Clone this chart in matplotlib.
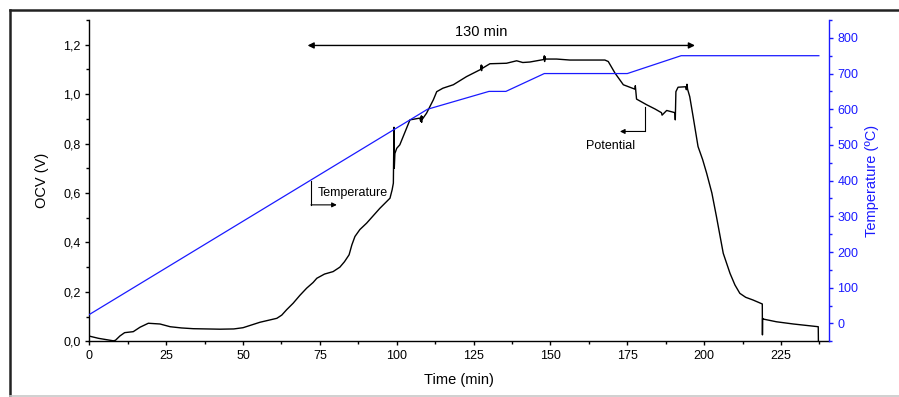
#!/usr/bin/env python3

import matplotlib
matplotlib.use("Agg")
import matplotlib.pyplot as plt
from matplotlib.ticker import MultipleLocator, FuncFormatter
from matplotlib.lines import Line2D

plt.rcParams["font.family"] = ["Liberation Sans", "DejaVu Sans"]

# OCV trace (time in min, voltage in V)
ocv_time = [0, 3, 7.8, 8.5, 10, 11.5, 14.3, 16.5, 19.2, 23, 26.3, 30, 33.8, 42.5, 47, 50, 55.5,
            61, 62.6, 64.2, 66.3, 68.5, 70.7, 72.8, 74, 76.5, 79.3, 81.5, 83, 84.5, 85.4,
            86.4, 88, 90.2, 94.5, 97.8, 98.5, 98.9, 99.1, 99.2, 99.4, 100, 101, 104.3, 107.5,
            107.8, 108.0, 108.1, 108.2, 108.4, 109.7, 111.9, 113, 115, 118.4, 122.7, 127.3,
            127.5, 127.6, 127.7, 127.9, 130.3, 135.7, 139, 141, 143.3, 147.8, 148.0, 148.1,
            148.2, 148.4, 152, 156.3, 167.7, 168.8, 171, 173.7, 177.5, 177.6, 178, 181.3, 184,
            186.1, 186.3, 187.8, 190.5, 190.6, 190.8, 191.5, 194.0, 194.2, 194.4, 194.6,
            195.3, 196.4, 198, 199.5, 200.8, 202.5, 204, 206.2, 208.4, 210, 211.6, 213.5,
            215.9, 218.9, 218.95, 219.0, 219.2, 223.5, 229, 237.1, 237.15]
ocv_volt = [0.021, 0.012, 0.002, 0.004, 0.022, 0.035, 0.039, 0.057, 0.073, 0.070, 0.059, 0.054,
            0.051, 0.049, 0.050, 0.055, 0.077, 0.093, 0.106, 0.128, 0.154, 0.186, 0.215, 0.238,
            0.255, 0.272, 0.282, 0.300, 0.322, 0.350, 0.390, 0.424, 0.452, 0.478, 0.538, 0.579,
            0.613, 0.640, 0.866, 0.700, 0.760, 0.781, 0.795, 0.896, 0.903, 0.890, 0.912, 0.886,
            0.910, 0.900, 0.923, 0.977, 1.010, 1.024, 1.038, 1.071, 1.100, 1.118, 1.095, 1.115,
            1.105, 1.123, 1.125, 1.135, 1.128, 1.130, 1.140, 1.155, 1.132, 1.152, 1.142, 1.142,
            1.138, 1.138, 1.132, 1.085, 1.038, 1.020, 1.034, 0.980, 0.957, 0.940, 0.925, 0.915,
            0.934, 0.925, 0.896, 1.010, 1.028, 1.030, 1.018, 1.040, 1.020, 0.990, 0.909, 0.788,
            0.735, 0.680, 0.600, 0.504, 0.356, 0.275, 0.228, 0.194, 0.178, 0.167, 0.151, 0.026,
            0.093, 0.090, 0.079, 0.070, 0.059, 0.0]

# furnace temperature program (min, degC)
temp_time = [0, 110, 130, 135.5, 148, 175, 192.5, 237.3]
temp_degc = [25, 600, 650, 650, 700, 700, 750, 750]

blue = "#1a1aff"

fig = plt.figure(figsize=(8.99, 3.97), dpi=100)
ax = fig.add_axes([89.3 / 899, 1 - 341.3 / 397, (828.7 - 89.3) / 899, (341.3 - 20) / 397])
ax2 = ax.twinx()

ax.plot(ocv_time, ocv_volt, color="black", lw=1.0, zorder=3)
ax2.plot(temp_time, temp_degc, color=blue, lw=0.9)

ax.set_xlim(0, 240.5)
ax.set_ylim(0, 1.3)
ax2.set_ylim(-50, 850)

comma = FuncFormatter(lambda v, p: ("%.1f" % v).replace(".", ","))
ax.yaxis.set_major_locator(MultipleLocator(0.2))
ax.yaxis.set_minor_locator(MultipleLocator(0.1))
ax.yaxis.set_major_formatter(comma)
ax.xaxis.set_major_locator(MultipleLocator(25))
ax.xaxis.set_minor_locator(MultipleLocator(12.5))
ax2.yaxis.set_minor_locator(MultipleLocator(50))
ax2.set_yticks(list(range(0, 801, 100)))

for a in (ax, ax2):
    a.spines["top"].set_visible(False)
    for s in a.spines.values():
        s.set_linewidth(1.0)
ax.spines["right"].set_visible(False)
ax2.spines["left"].set_visible(False)
ax2.spines["bottom"].set_visible(False)
ax2.spines["right"].set_color(blue)

ax.tick_params(which="major", direction="out", length=3.2, width=1.0, labelsize=9, pad=3)
ax.tick_params(which="minor", direction="out", length=2.2, width=1.0)
ax2.tick_params(which="major", direction="out", length=3.2, width=1.0, labelsize=9, pad=3,
                colors=blue)
ax2.tick_params(which="minor", direction="out", length=2.2, width=1.0, colors=blue)

ax.set_xlabel("Time (min)", fontsize=10.5, labelpad=8)
ax.set_ylabel("OCV (V)", fontsize=10.5, labelpad=10)
ax2.set_ylabel("Temperature (\u00baC)", fontsize=10.5, color=blue, labelpad=5)

# 130 min span
ax.annotate("", xy=(71, 1.197), xytext=(197, 1.197),
            arrowprops=dict(arrowstyle="<|-|>", color="black", lw=1.0,
                            mutation_scale=9, shrinkA=0, shrinkB=0))
ax.text(127.6, 1.253, "130 min", fontsize=10.5, ha="center", va="center")

# Temperature pointer
ax.plot([72.1, 72.1], [0.649, 0.552], color="black", lw=0.8)
ax.annotate("", xy=(80.5, 0.552), xytext=(72.1, 0.552),
            arrowprops=dict(arrowstyle="-|>", color="black", lw=0.8,
                            mutation_scale=7, shrinkA=0, shrinkB=0))
ax.text(74.4, 0.60, "Temperature", fontsize=9, ha="left", va="center")

# Potential pointer
ax.plot([180.9, 180.9], [0.95, 0.849], color="black", lw=0.8)
ax.annotate("", xy=(172.6, 0.849), xytext=(180.9, 0.849),
            arrowprops=dict(arrowstyle="-|>", color="black", lw=0.8,
                            mutation_scale=7, shrinkA=0, shrinkB=0))
ax.text(161.6, 0.79, "Potential", fontsize=9, ha="left", va="center")

# outer frame of the original figure
fig.add_artist(Line2D([10 / 899, 10 / 899], [0, 1 - 9.5 / 397], color="#222222", lw=1.8))
fig.add_artist(Line2D([10 / 899, 1], [1 - 9.5 / 397, 1 - 9.5 / 397], color="#222222", lw=1.8))
fig.add_artist(Line2D([10 / 899, 1], [0.8 / 397, 0.8 / 397], color="#c8c8c8", lw=1.2))

plt.savefig("out.png", dpi=100)
